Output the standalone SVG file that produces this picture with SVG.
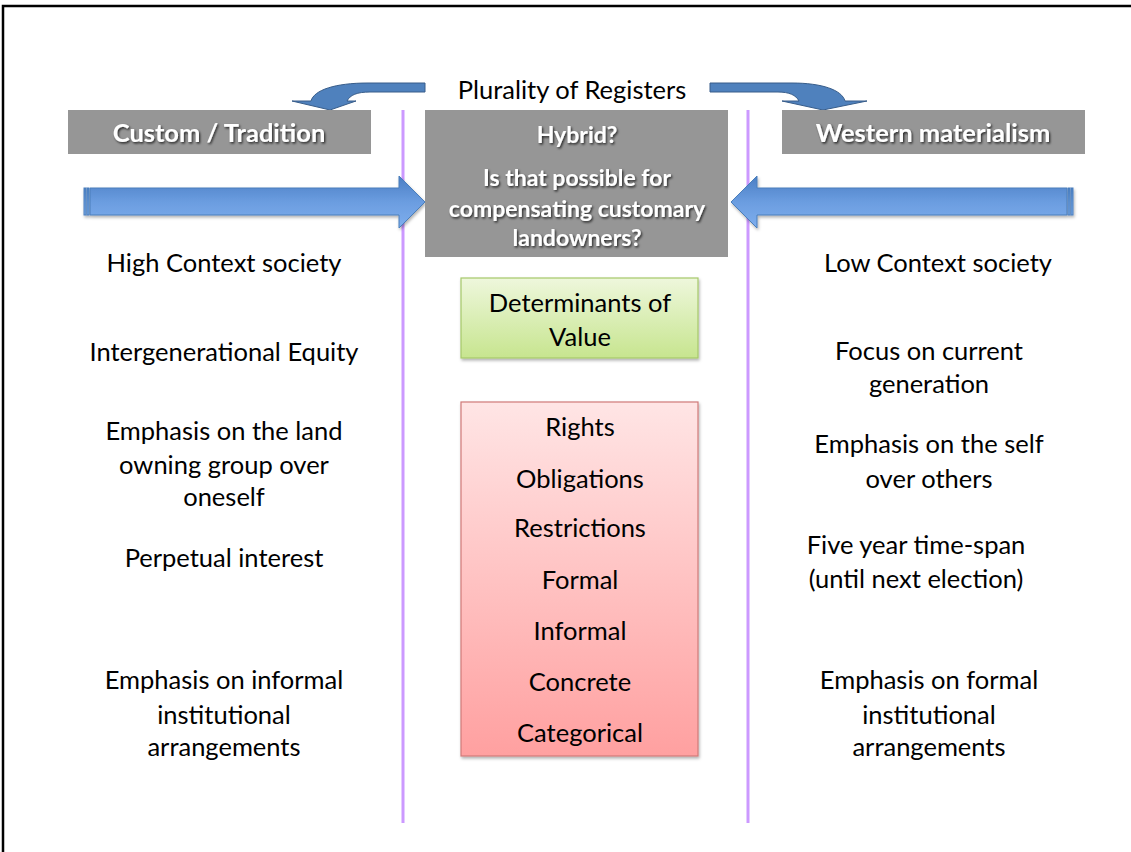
<svg xmlns="http://www.w3.org/2000/svg" width="1131" height="852" viewBox="0 0 1131 852">
<defs>
<linearGradient id="gBlue" x1="0" y1="0" x2="0" y2="1">
<stop offset="0" stop-color="#4a7ec4"/>
<stop offset="0.5" stop-color="#6b9de0"/>
<stop offset="1" stop-color="#7eaeee"/>
</linearGradient>
<linearGradient id="gGreen" x1="0" y1="0" x2="0" y2="1">
<stop offset="0" stop-color="#eef7dc"/>
<stop offset="1" stop-color="#c7e58f"/>
</linearGradient>
<linearGradient id="gPink" x1="0" y1="0" x2="0" y2="1">
<stop offset="0" stop-color="#ffe5e5"/>
<stop offset="1" stop-color="#ffa0a0"/>
</linearGradient>
<filter id="tshadow" x="-10%" y="-30%" width="120%" height="160%">
<feDropShadow dx="1.2" dy="1.5" stdDeviation="0.8" flood-color="#000" flood-opacity="0.75"/>
</filter>
<filter id="bshadow" x="-5%" y="-5%" width="115%" height="115%">
<feDropShadow dx="1" dy="2" stdDeviation="1.5" flood-color="#000" flood-opacity="0.3"/>
</filter>
</defs>
<style>
.hdr{fill:#969696}
.ht{font-family:Lato,"Open Sans","Liberation Sans",sans-serif;font-weight:bold;fill:#fff;text-anchor:middle;filter:url(#tshadow)}
.t{font-family:Lato,"Open Sans","Liberation Sans",sans-serif;font-size:25.5px;fill:#000;text-anchor:middle}
.div{stroke:#cc99ff;stroke-width:3;fill:none}
.blue{fill:url(#gBlue);stroke:#4a7ebb;stroke-width:1}
.curv{fill:#4f81bd;stroke:#385d8a;stroke-width:1}
</style>
<rect width="1131" height="852" fill="#fff"/>
<path d="M3,852 V6 H1131" fill="none" stroke="#000" stroke-width="2.5"/>

<g id="dividers">
<line class="div" x1="403" y1="110" x2="403" y2="823"/>
<line class="div" x1="748" y1="110" x2="748" y2="823"/>
</g>

<g id="connectors">
<path class="curv" d="M425,83 H368 C335,83 314,90 311,101 H292 L330,110 L356,101 H347 C350,95 357,92 370,92 H425 Z"/>
<path class="curv" d="M710,83 H792 C822,83 842,90 845,101 H867 L823,110 L782,101 H799 C796,95 789,92 778,92 H710 Z"/>
<g filter="url(#bshadow)">
<path class="blue" d="M90,188 H399 V176 L425,202 L399,228 V215 H90 Z"/>
<rect class="blue" x="84" y="188" width="2" height="27"/>
<rect class="blue" x="87" y="188" width="2" height="27"/>
<path class="blue" d="M1067,188 H757 V176 L731,202 L757,228 V215 H1067 Z"/>
<rect class="blue" x="1068" y="188" width="2" height="27"/>
<rect class="blue" x="1071" y="188" width="2" height="27"/>
</g>
</g>

<g id="plurality">
<text class="t" x="572" y="99">Plurality of Registers</text>
</g>

<g id="custom">
<rect class="hdr" x="68" y="110" width="303" height="44"/>
<text class="ht" x="219" y="142" font-size="25.5">Custom / Tradition</text>
</g>
<g id="hybrid">
<rect class="hdr" x="425" y="110" width="303" height="147"/>
<text class="ht" x="577" y="143" font-size="23">Hybrid?</text>
<text class="ht" x="577" y="186" font-size="23">Is that possible for</text>
<text class="ht" x="577" y="217" font-size="23">compensating customary</text>
<text class="ht" x="577" y="246" font-size="23">landowners?</text>
</g>
<g id="western">
<rect class="hdr" x="782" y="110" width="303" height="44"/>
<text class="ht" x="933" y="142" font-size="25.5">Western materialism</text>
</g>

<g id="determinants">
<rect x="461" y="278" width="237" height="80" fill="url(#gGreen)" stroke="#a6c86a" stroke-width="1.2" filter="url(#bshadow)"/>
<text class="t" x="580" y="312">Determinants of</text>
<text class="t" x="580" y="346">Value</text>
</g>

<g id="factors">
<rect x="461" y="402" width="237" height="354" fill="url(#gPink)" stroke="#d07a78" stroke-width="1.2" filter="url(#bshadow)"/>
<text class="t" x="580" y="436">Rights</text>
<text class="t" x="580" y="488">Obligations</text>
<text class="t" x="580" y="537">Restrictions</text>
<text class="t" x="580" y="589">Formal</text>
<text class="t" x="580" y="640">Informal</text>
<text class="t" x="580" y="691">Concrete</text>
<text class="t" x="580" y="742">Categorical</text>
</g>

<g id="left-items">
<g id="l1"><text class="t" x="224" y="272">High Context society</text></g>
<g id="l2"><text class="t" x="224" y="361">Intergenerational Equity</text></g>
<g id="l3"><text class="t" x="224" y="440">Emphasis on the land</text><text class="t" x="224" y="474">owning group over</text><text class="t" x="224" y="506">oneself</text></g>
<g id="l4"><text class="t" x="224" y="567">Perpetual interest</text></g>
<g id="l5"><text class="t" x="224" y="689">Emphasis on informal</text><text class="t" x="224" y="724">institutional</text><text class="t" x="224" y="756">arrangements</text></g>
</g>

<g id="right-items">
<g id="r1"><text class="t" x="938" y="272">Low Context society</text></g>
<g id="r2"><text class="t" x="929" y="360">Focus on current</text><text class="t" x="929" y="393">generation</text></g>
<g id="r3"><text class="t" x="929" y="453">Emphasis on the self</text><text class="t" x="929" y="488">over others</text></g>
<g id="r4"><text class="t" x="916" y="554">Five year time-span</text><text class="t" x="916" y="588">(until next election)</text></g>
<g id="r5"><text class="t" x="929" y="689">Emphasis on formal</text><text class="t" x="929" y="724">institutional</text><text class="t" x="929" y="756">arrangements</text></g>
</g>
</svg>
